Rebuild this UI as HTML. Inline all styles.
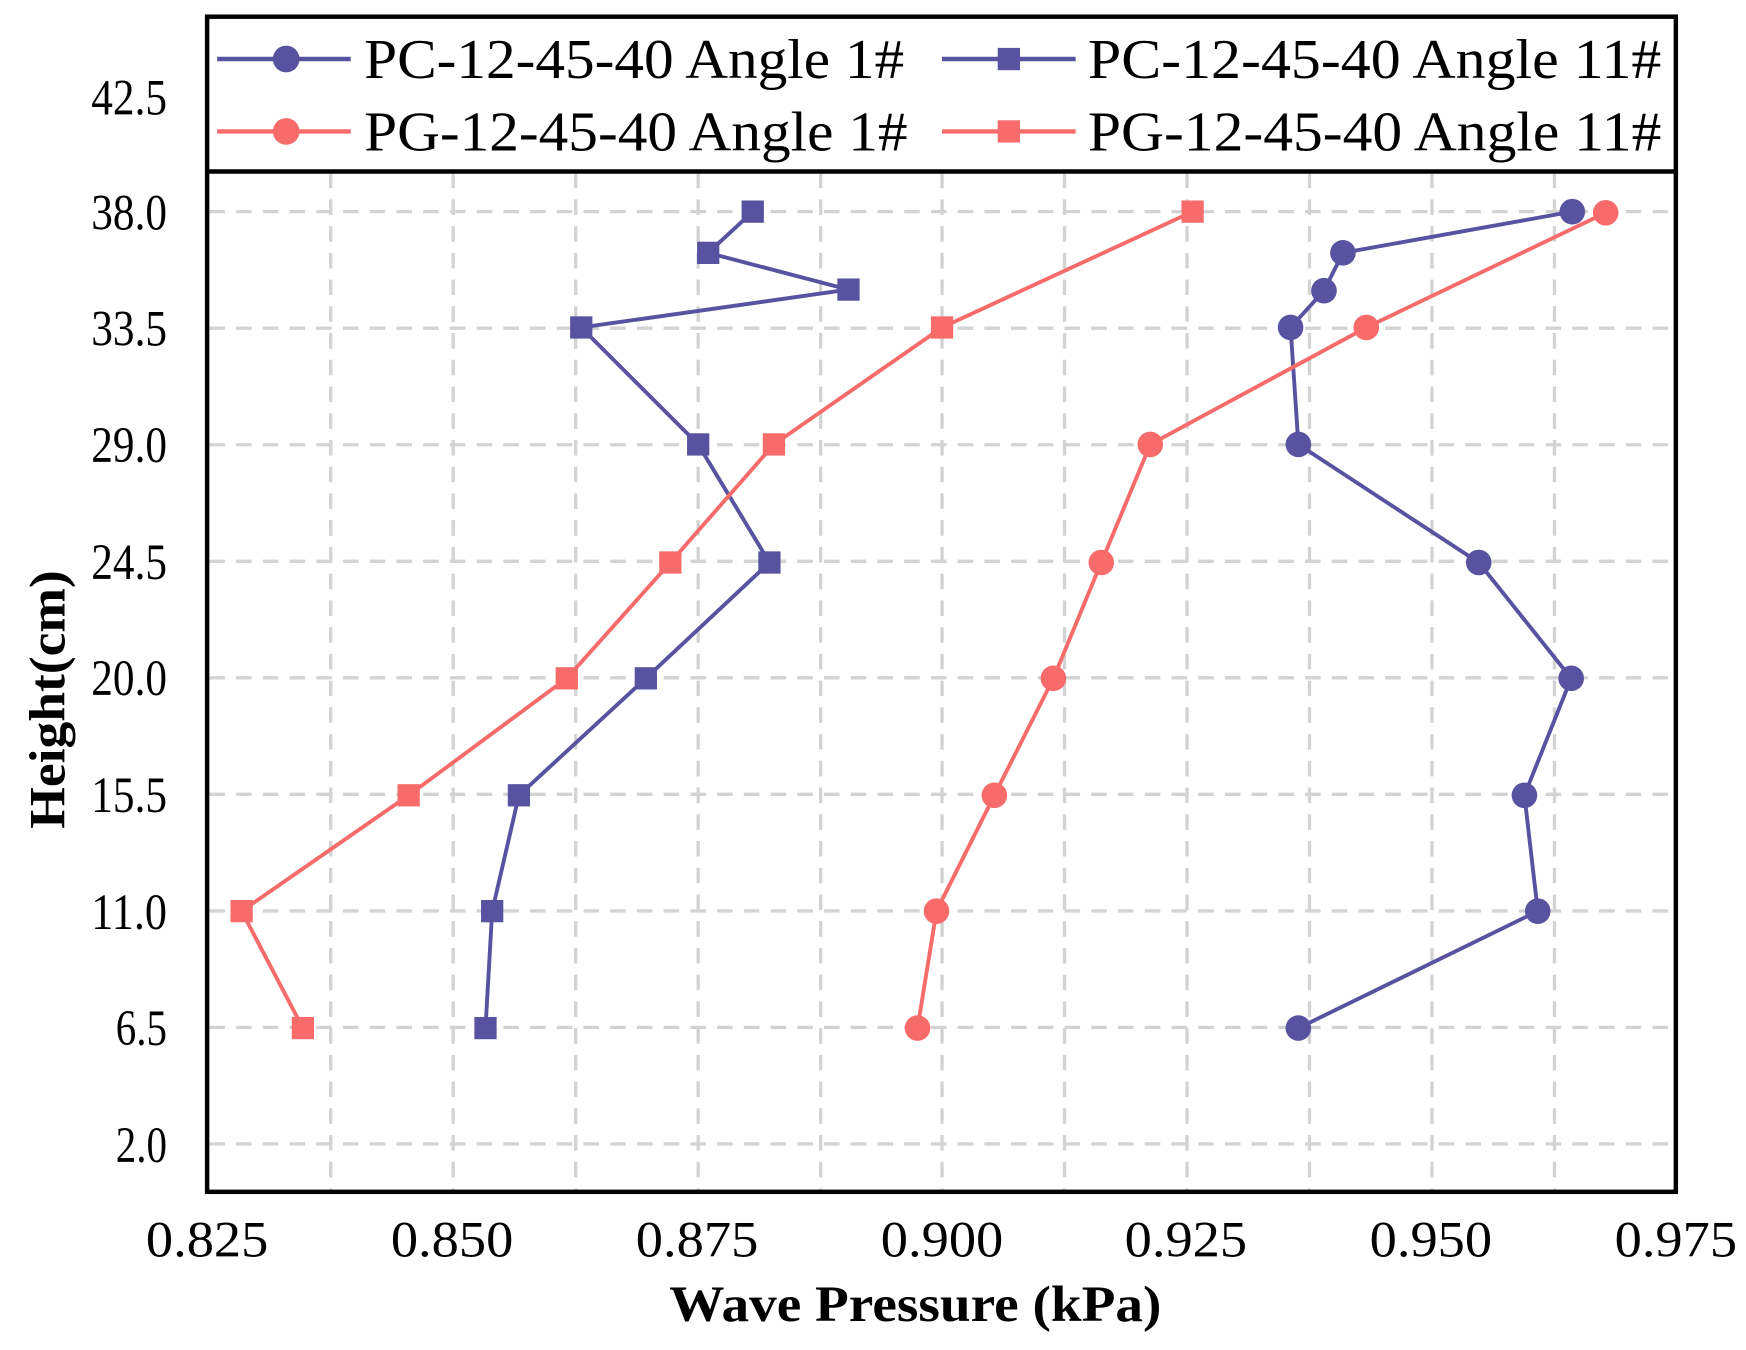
<!DOCTYPE html>
<html><head><meta charset="utf-8"><style>html,body{margin:0;padding:0;background:#fff}svg{display:block}</style></head>
<body>
<svg width="1746" height="1350" viewBox="0 0 1568 1212" preserveAspectRatio="none" xmlns="http://www.w3.org/2000/svg" font-family="Liberation Serif, serif">
<rect width="1568" height="1212" fill="#fff"/>
<g stroke="#d3d3d3" stroke-width="3" stroke-dasharray="14,10">
<line x1="297" y1="155" x2="297" y2="1070"/><line x1="407" y1="155" x2="407" y2="1070"/><line x1="517" y1="155" x2="517" y2="1070"/><line x1="627" y1="155" x2="627" y2="1070"/><line x1="737" y1="155" x2="737" y2="1070"/><line x1="846" y1="155" x2="846" y2="1070"/><line x1="956" y1="155" x2="956" y2="1070"/><line x1="1066" y1="155" x2="1066" y2="1070"/><line x1="1176" y1="155" x2="1176" y2="1070"/><line x1="1286" y1="155" x2="1286" y2="1070"/><line x1="1396" y1="155" x2="1396" y2="1070"/>
<line x1="188" y1="190" x2="1503" y2="190"/><line x1="188" y1="294.6" x2="1503" y2="294.6"/><line x1="188" y1="399.3" x2="1503" y2="399.3"/><line x1="188" y1="503.9" x2="1503" y2="503.9"/><line x1="188" y1="608.5" x2="1503" y2="608.5"/><line x1="188" y1="713.1" x2="1503" y2="713.1"/><line x1="188" y1="817.8" x2="1503" y2="817.8"/><line x1="188" y1="922.4" x2="1503" y2="922.4"/><line x1="188" y1="1027" x2="1503" y2="1027"/>
</g>
<g fill="none" stroke-width="3.5" stroke-linejoin="round">
<polyline stroke="#5753A0" points="1412,190 1206,227 1189,261 1159,294 1166,399 1328,505 1411,609 1369,714 1381,818 1166,923"/>
<polyline stroke="#5753A0" points="676,190 636,227 762,260 522,294 627,399 691,505 580,609 466,714 442,818 436,923"/>
<polyline stroke="#F76B6B" points="1442,191 1227,294 1033,399 989,505 946,609 893,714 841,818 824,923"/>
<polyline stroke="#F76B6B" points="1071,190 846,294 695,399 602,505 509,609 367,714 217,818 272,923"/>
</g>
<g fill="#5753A0">
<circle cx="1412" cy="190" r="11.5"/><circle cx="1206" cy="227" r="11.5"/><circle cx="1189" cy="261" r="11.5"/><circle cx="1159" cy="294" r="11.5"/><circle cx="1166" cy="399" r="11.5"/><circle cx="1328" cy="505" r="11.5"/><circle cx="1411" cy="609" r="11.5"/><circle cx="1369" cy="714" r="11.5"/><circle cx="1381" cy="818" r="11.5"/><circle cx="1166" cy="923" r="11.5"/>
<rect x="666" y="180" width="20" height="20"/><rect x="626" y="217" width="20" height="20"/><rect x="752" y="250" width="20" height="20"/><rect x="512" y="284" width="20" height="20"/><rect x="617" y="389" width="20" height="20"/><rect x="681" y="495" width="20" height="20"/><rect x="570" y="599" width="20" height="20"/><rect x="456" y="704" width="20" height="20"/><rect x="432" y="808" width="20" height="20"/><rect x="426" y="913" width="20" height="20"/>
</g>
<g fill="#F76B6B">
<circle cx="1442" cy="191" r="11.5"/><circle cx="1227" cy="294" r="11.5"/><circle cx="1033" cy="399" r="11.5"/><circle cx="989" cy="505" r="11.5"/><circle cx="946" cy="609" r="11.5"/><circle cx="893" cy="714" r="11.5"/><circle cx="841" cy="818" r="11.5"/><circle cx="824" cy="923" r="11.5"/>
<rect x="1061" y="180" width="20" height="20"/><rect x="836" y="284" width="20" height="20"/><rect x="685" y="389" width="20" height="20"/><rect x="592" y="495" width="20" height="20"/><rect x="499" y="599" width="20" height="20"/><rect x="357" y="704" width="20" height="20"/><rect x="207" y="808" width="20" height="20"/><rect x="262" y="913" width="20" height="20"/>
</g>
<rect x="186" y="15" width="1319" height="139" fill="#fff" stroke="none"/>
<line x1="186" y1="154" x2="1505" y2="154" stroke="#000" stroke-width="4"/>
<g stroke-width="4">
<line x1="195" y1="53" x2="315" y2="53" stroke="#5753A0"/><circle cx="257" cy="53" r="12" fill="#5753A0"/>
<line x1="195" y1="118" x2="315" y2="118" stroke="#F76B6B"/><circle cx="257" cy="118" r="12" fill="#F76B6B"/>
<line x1="846" y1="53" x2="966" y2="53" stroke="#5753A0"/><rect x="896" y="43" width="20" height="20" fill="#5753A0"/>
<line x1="846" y1="118" x2="966" y2="118" stroke="#F76B6B"/><rect x="896" y="108" width="20" height="20" fill="#F76B6B"/>
</g>
<g font-size="50" fill="#000">
<text x="327" y="70" textLength="485" lengthAdjust="spacingAndGlyphs">PC-12-45-40 Angle 1#</text>
<text x="327" y="135" textLength="488" lengthAdjust="spacingAndGlyphs">PG-12-45-40 Angle 1#</text>
<text x="977" y="70" textLength="515" lengthAdjust="spacingAndGlyphs">PC-12-45-40 Angle 11#</text>
<text x="977" y="135" textLength="515" lengthAdjust="spacingAndGlyphs">PG-12-45-40 Angle 11#</text>
</g>
<rect x="186" y="15" width="1319" height="1055" fill="none" stroke="#000" stroke-width="4"/>
<g font-size="46" fill="#000" text-anchor="end">
<text x="150" y="103" textLength="68" lengthAdjust="spacingAndGlyphs">42.5</text>
<text x="150" y="206" textLength="68" lengthAdjust="spacingAndGlyphs">38.0</text>
<text x="150" y="310" textLength="68" lengthAdjust="spacingAndGlyphs">33.5</text>
<text x="150" y="415" textLength="68" lengthAdjust="spacingAndGlyphs">29.0</text>
<text x="150" y="520" textLength="68" lengthAdjust="spacingAndGlyphs">24.5</text>
<text x="150" y="624" textLength="68" lengthAdjust="spacingAndGlyphs">20.0</text>
<text x="150" y="729" textLength="68" lengthAdjust="spacingAndGlyphs">15.5</text>
<text x="150" y="834" textLength="68" lengthAdjust="spacingAndGlyphs">11.0</text>
<text x="150" y="938" textLength="46" lengthAdjust="spacingAndGlyphs">6.5</text>
<text x="150" y="1043" textLength="46" lengthAdjust="spacingAndGlyphs">2.0</text>
</g>
<g font-size="46" fill="#000" text-anchor="middle">
<text x="186" y="1128" textLength="110" lengthAdjust="spacingAndGlyphs">0.825</text><text x="406" y="1128" textLength="110" lengthAdjust="spacingAndGlyphs">0.850</text><text x="626" y="1128" textLength="110" lengthAdjust="spacingAndGlyphs">0.875</text><text x="846" y="1128" textLength="110" lengthAdjust="spacingAndGlyphs">0.900</text><text x="1065" y="1128" textLength="110" lengthAdjust="spacingAndGlyphs">0.925</text><text x="1285" y="1128" textLength="110" lengthAdjust="spacingAndGlyphs">0.950</text><text x="1505" y="1128" textLength="110" lengthAdjust="spacingAndGlyphs">0.975</text>
</g>
<text x="822" y="1186" font-size="46" font-weight="bold" text-anchor="middle" textLength="442" lengthAdjust="spacingAndGlyphs">Wave Pressure (kPa)</text>
<text transform="translate(58,628) rotate(-90)" font-size="46" font-weight="bold" text-anchor="middle" textLength="232" lengthAdjust="spacingAndGlyphs">Height(cm)</text>
</svg>
</body></html>
